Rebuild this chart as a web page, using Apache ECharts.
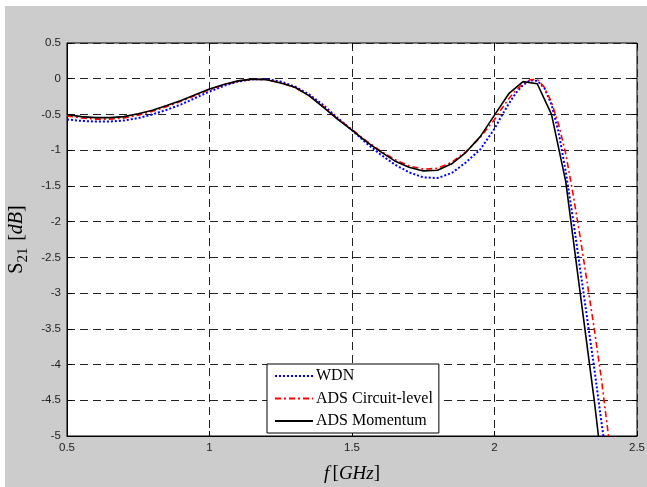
<!DOCTYPE html>
<html>
<head>
<meta charset="utf-8">
<script src="https://cdn.jsdelivr.net/npm/echarts@6/dist/echarts.min.js"></script>
<style>
  html, body { margin: 0; padding: 0; background: #fff; }
  #frame { position: absolute; left: 5px; top: 6px; width: 642px; height: 481px; background: #cccccc; }
  #chart { position: absolute; left: 0; top: 0; width: 647px; height: 487px; }
</style>
</head>
<body>
<div id="frame"></div>
<div id="chart"></div>
<script>
// frequency in GHz
const freqMomentum = [0.5, 0.55, 0.6, 0.65, 0.7, 0.75, 0.8, 0.85, 0.9, 0.95,
  1.0, 1.05, 1.1, 1.15, 1.2, 1.25, 1.3, 1.35, 1.4, 1.45,
  1.5, 1.55, 1.6, 1.65, 1.7, 1.75, 1.8, 1.85, 1.9, 1.95,
  2.0, 2.05, 2.1, 2.15, 2.2, 2.25, 2.3, 2.35, 2.4];
const freqFine = [0.5, 0.55, 0.6, 0.65, 0.7, 0.75, 0.8, 0.85, 0.9, 0.95,
  1.0, 1.05, 1.1, 1.15, 1.2, 1.25, 1.3, 1.35, 1.4, 1.45,
  1.5, 1.55, 1.6, 1.65, 1.7, 1.75, 1.8, 1.85, 1.9, 1.95,
  2.0, 2.025, 2.05, 2.075, 2.1, 2.125, 2.15, 2.175, 2.2, 2.225,
  2.25, 2.275, 2.3, 2.325, 2.35, 2.375, 2.4, 2.425];

// S21 in dB
const wdn = [-0.57, -0.59, -0.60, -0.60, -0.585, -0.55, -0.50, -0.435, -0.36, -0.27,
  -0.18, -0.10, -0.04, -0.008, -0.005, -0.04, -0.11, -0.22, -0.37, -0.55,
  -0.72, -0.90, -1.06, -1.20, -1.31, -1.38, -1.39, -1.32, -1.17, -0.99,
  -0.70, -0.52, -0.35, -0.20, -0.09, -0.02, -0.03, -0.13, -0.36, -0.75,
  -1.30, -1.95, -2.65, -3.35, -4.05, -4.8, -5.5, -6.2];
const circuit = [-0.52, -0.55, -0.565, -0.565, -0.55, -0.51, -0.455, -0.39, -0.315, -0.235,
  -0.155, -0.085, -0.035, -0.005, -0.012, -0.055, -0.125, -0.235, -0.39, -0.56,
  -0.71, -0.87, -1.01, -1.13, -1.22, -1.265, -1.255, -1.17, -1.02, -0.82,
  -0.57, -0.42, -0.28, -0.16, -0.07, -0.015, -0.01, -0.12, -0.33, -0.64,
  -1.05, -1.6, -2.2, -2.85, -3.5, -4.2, -5.0, -5.7];
const momentum = [-0.50, -0.53, -0.545, -0.545, -0.53, -0.49, -0.44, -0.375, -0.305, -0.225,
  -0.145, -0.08, -0.03, -0.005, -0.015, -0.06, -0.12, -0.24, -0.40, -0.57,
  -0.72, -0.88, -1.02, -1.15, -1.24, -1.29, -1.28, -1.19, -1.03, -0.81,
  -0.51, -0.21, -0.04, -0.07, -0.50, -1.44, -2.98, -4.50, -6.20];

const xTicks = [0.5, 1, 1.5, 2, 2.5];
const yTicks = [0.5, 0, -0.5, -1, -1.5, -2, -2.5, -3, -3.5, -4, -4.5, -5];

const pairs = (xs, ys) => xs.map((x, i) => [x, ys[i]]);

const chart = echarts.init(document.getElementById('chart'), null, { renderer: 'canvas' });

const gridLine = { show: true, lineStyle: { color: '#222', width: 1, type: [8, 5] } };
const tickFont = { color: '#222', fontSize: 11.5, fontFamily: 'Liberation Sans, Arial, sans-serif' };
const serif = 'Liberation Serif, Times New Roman, serif';

chart.setOption({
  backgroundColor: 'transparent',
  animation: false,
  grid: {
    left: 67, right: 10, top: 43, bottom: 51,
    containLabel: false, outerBoundsMode: 'none',
    show: true, backgroundColor: '#fff', borderColor: '#000', borderWidth: 1
  },
  xAxis: [{
    type: 'value', min: 0.5, max: 2.5, interval: 0.5,
    axisLine: { onZero: false, lineStyle: { color: '#000' } },
    axisTick: { inside: true, length: 5, lineStyle: { color: '#000' } },
    axisLabel: Object.assign({ margin: 6, formatter: (v) => xTicks.includes(v) ? String(v) : '' }, tickFont),
    splitLine: gridLine,
    name: '{i|f} {n|[}{i|GHz}{n|]}',
    nameLocation: 'middle', nameGap: 28,
    nameTextStyle: {
      rich: {
        i: { fontFamily: serif, fontStyle: 'italic', fontSize: 19, color: '#000' },
        n: { fontFamily: serif, fontSize: 19, color: '#000' }
      }
    }
  }, {
    type: 'value', min: 0.5, max: 2.5, interval: 0.5, position: 'top',
    axisLine: { show: false, onZero: false },
    axisTick: { inside: true, length: 5, lineStyle: { color: '#000' } },
    axisLabel: { show: false }, splitLine: { show: false }
  }],
  yAxis: [{
    type: 'value', min: -5, max: 0.5, interval: 0.5,
    axisLine: { show: true, onZero: false, lineStyle: { color: '#000' } },
    axisTick: { show: true, inside: true, length: 5, lineStyle: { color: '#000' } },
    axisLabel: Object.assign({ margin: 6, formatter: (v) => {
      const r = Math.round(v * 10) / 10;
      return yTicks.includes(r) ? String(r) : '';
    } }, tickFont),
    splitLine: gridLine,
    name: '{n|S}{sub|21}  {n|[}{i|dB}{n|]}',
    nameLocation: 'middle', nameGap: 35, nameRotate: 90,
    nameTextStyle: {
      rich: {
        n: { fontFamily: serif, fontSize: 20, color: '#000', lineHeight: 28, verticalAlign: 'middle' },
        i: { fontFamily: serif, fontStyle: 'italic', fontSize: 20, color: '#000', lineHeight: 28, verticalAlign: 'middle' },
        sub: { fontFamily: serif, fontSize: 15, color: '#000', lineHeight: 28, verticalAlign: 'bottom' }
      }
    }
  }, {
    type: 'value', min: -5, max: 0.5, interval: 0.5, position: 'right',
    axisLine: { show: false, onZero: false },
    axisTick: { show: true, inside: true, length: 5, lineStyle: { color: '#000' } },
    axisLabel: { show: false }, splitLine: { show: false }
  }],
  legend: {
    orient: 'vertical',
    left: 267, top: 364,
    width: 171,
    padding: [4, 6, 4, 7],
    itemWidth: 38, itemHeight: 14, itemGap: 6.5,
    itemStyle: { opacity: 0 },
    backgroundColor: '#fff', borderColor: '#000', borderWidth: 1,
    textStyle: { fontFamily: serif, fontSize: 16, color: '#000', padding: [0, 0, 0, -2] },
    data: ['WDN', 'ADS Circuit-level', 'ADS Momentum']
  },
  series: [{
    name: 'WDN', type: 'line', symbol: 'none', z: 3,
    data: pairs(freqFine, wdn),
    lineStyle: { color: '#0000ff', width: 2, type: [2, 2] },
    itemStyle: { color: '#0000ff' }
  }, {
    name: 'ADS Circuit-level', type: 'line', symbol: 'none', z: 4,
    data: pairs(freqFine, circuit),
    lineStyle: { color: '#ff0000', width: 1.6, type: [6, 3, 2, 3] },
    itemStyle: { color: '#ff0000' }
  }, {
    name: 'ADS Momentum', type: 'line', symbol: 'none', z: 5,
    data: pairs(freqMomentum, momentum),
    lineStyle: { color: '#000', width: 1.6, type: 'solid' },
    itemStyle: { color: '#000' }
  }]
});
</script>
</body>
</html>
